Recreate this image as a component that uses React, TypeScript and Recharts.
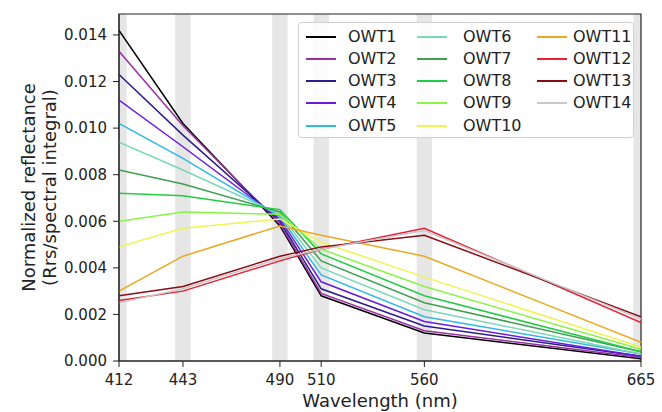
import React from "react";
import { LineChart, Line, XAxis, YAxis, ReferenceArea, Legend } from "recharts";

const wavelengths = [412, 443, 490, 510, 560, 665];
const yTicks = [0, 0.002, 0.004, 0.006, 0.008, 0.01, 0.012, 0.014];

const seriesNames = [
  "OWT1", "OWT2", "OWT3", "OWT4", "OWT5", "OWT6", "OWT7",
  "OWT8", "OWT9", "OWT10", "OWT11", "OWT12", "OWT13", "OWT14"
];
const seriesColors = [
  "#000000", "#9b30a0", "#2b1d8e", "#6b1be0", "#30b8e6", "#7ad8b8", "#3f9f4f",
  "#22cc44", "#88f545", "#eef552", "#e8a820", "#e62035", "#8b0a14", "#c8c8c8"
];

const owt1 = [0.0142, 0.0102, 0.0058, 0.0028, 0.0012, 0.0001];
const owt2 = [0.0133, 0.0101, 0.0059, 0.0029, 0.0013, 0.00015];
const owt3 = [0.0123, 0.0097, 0.006, 0.0031, 0.0015, 0.0002];
const owt4 = [0.0112, 0.0092, 0.0061, 0.0034, 0.0017, 0.0002];
const owt5 = [0.0102, 0.0087, 0.0062, 0.0037, 0.0019, 0.0003];
const owt6 = [0.0094, 0.0082, 0.0063, 0.004, 0.0022, 0.0003];
const owt7 = [0.0082, 0.0076, 0.0064, 0.0043, 0.0025, 0.0004];
const owt8 = [0.0072, 0.0071, 0.0065, 0.0046, 0.0028, 0.0004];
const owt9 = [0.006, 0.0064, 0.0063, 0.0048, 0.0032, 0.0005];
const owt10 = [0.0049, 0.0057, 0.0061, 0.0051, 0.0036, 0.0006];
const owt11 = [0.003, 0.0045, 0.0058, 0.0054, 0.0045, 0.0008];
const owt12 = [0.0026, 0.003, 0.0043, 0.0048, 0.0057, 0.00165];
const owt13 = [0.0028, 0.0032, 0.0045, 0.0049, 0.0054, 0.0019];
const owt14 = [0.0025, 0.0031, 0.0044, 0.0048, 0.0056, 0.0018];

const seriesValues = [
  owt1, owt2, owt3, owt4, owt5, owt6, owt7,
  owt8, owt9, owt10, owt11, owt12, owt13, owt14
];

const data = wavelengths.map((wl, i) => {
  const row: Record<string, number> = { wl };
  seriesNames.forEach((name, s) => {
    row[name] = seriesValues[s][i];
  });
  return row;
});

const FONT = "'DejaVu Sans', sans-serif";
const Y_MAX = 0.0149;
const BAND_HALF = 3.75;

function YLabel(props: any) {
  const vb = props.viewBox || {};
  const cy = (vb.y ?? 14) + (vb.height ?? 347) / 2;
  return (
    <g fontFamily={FONT} fontSize={18} fill="#222">
      <text x={28} y={cy} textAnchor="middle" dominantBaseline="central" transform={`rotate(-90, 28, ${cy})`}>
        Normalized reflectance
      </text>
      <text x={49} y={cy} textAnchor="middle" dominantBaseline="central" transform={`rotate(-90, 49, ${cy})`}>
        (Rrs/spectral integral)
      </text>
    </g>
  );
}

function XLabel(props: any) {
  const vb = props.viewBox || {};
  const cx = (vb.x ?? 119) + (vb.width ?? 522) / 2;
  const y = (vb.y ?? 361) + 46;
  return (
    <text x={cx} y={y} textAnchor="middle" fontFamily={FONT} fontSize={18} fill="#222">
      Wavelength (nm)
    </text>
  );
}

const colLine = [7, 118, 238];
const colText = [49, 164, 274];

function LegendBox() {
  return (
    <div
      style={{
        position: "relative",
        width: 336,
        height: 116,
        border: "1px solid #d0d0d0",
        borderRadius: 4,
        background: "rgba(255,255,255,0.85)",
        boxSizing: "border-box",
        fontFamily: FONT,
        fontSize: 16,
        color: "#222"
      }}
    >
      {seriesNames.map((name, i) => {
        const col = Math.floor(i / 5);
        const row = i % 5;
        const cy = 13.5 + row * 22.3;
        return (
          <React.Fragment key={name}>
            <div
              style={{
                position: "absolute",
                left: colLine[col],
                top: cy - 1,
                width: 30,
                height: 2,
                background: seriesColors[i]
              }}
            />
            <div
              style={{
                position: "absolute",
                left: colText[col],
                top: cy - 10,
                lineHeight: "20px",
                whiteSpace: "nowrap"
              }}
            >
              {name}
            </div>
          </React.Fragment>
        );
      })}
    </div>
  );
}

export default function App() {
  return (
    <div style={{ position: "absolute", left: 0, top: 0, width: 662, height: 412, background: "#fff" }}>
      <LineChart width={662} height={412} data={data} margin={{ top: 14, right: 21, left: 0, bottom: 0 }}>
        {wavelengths.map((w) => (
          <ReferenceArea
            key={`band-${w}`}
            x1={w - BAND_HALF}
            x2={w + BAND_HALF}
            y1={0}
            y2={Y_MAX}
            fill="#e6e6e6"
            fillOpacity={1}
            stroke="none"
            ifOverflow="hidden"
          />
        ))}
        <XAxis
          dataKey="wl"
          type="number"
          domain={[412, 665]}
          ticks={wavelengths}
          interval={0}
          allowDataOverflow
          height={51}
          tickSize={6}
          tickMargin={7}
          stroke="#222"
          tick={{ fontFamily: FONT, fontSize: 15, fill: "#222" }}
          label={<XLabel />}
        />
        <YAxis
          type="number"
          domain={[0, Y_MAX]}
          ticks={yTicks}
          allowDataOverflow
          width={119}
          tickSize={6}
          tickMargin={6}
          stroke="#222"
          tickFormatter={(v: number) => v.toFixed(3)}
          tick={{ fontFamily: FONT, fontSize: 15, fill: "#222" }}
          label={<YLabel />}
        />
        {seriesNames.map((name, i) => (
          <Line
            key={name}
            dataKey={name}
            type="linear"
            stroke={seriesColors[i]}
            strokeWidth={1.5}
            dot={false}
            activeDot={false}
            isAnimationActive={false}
          />
        ))}
        <ReferenceArea
          x1={412}
          x2={665}
          y1={0}
          y2={Y_MAX}
          fill="none"
          stroke="#222"
          strokeWidth={1.2}
          ifOverflow="extendDomain"
        />
        <Legend
          layout="vertical"
          align="center"
          verticalAlign="middle"
          wrapperStyle={{ position: "absolute", left: 298, top: 22, width: 336, height: 116 }}
          content={() => <LegendBox />}
        />
      </LineChart>
    </div>
  );
}
